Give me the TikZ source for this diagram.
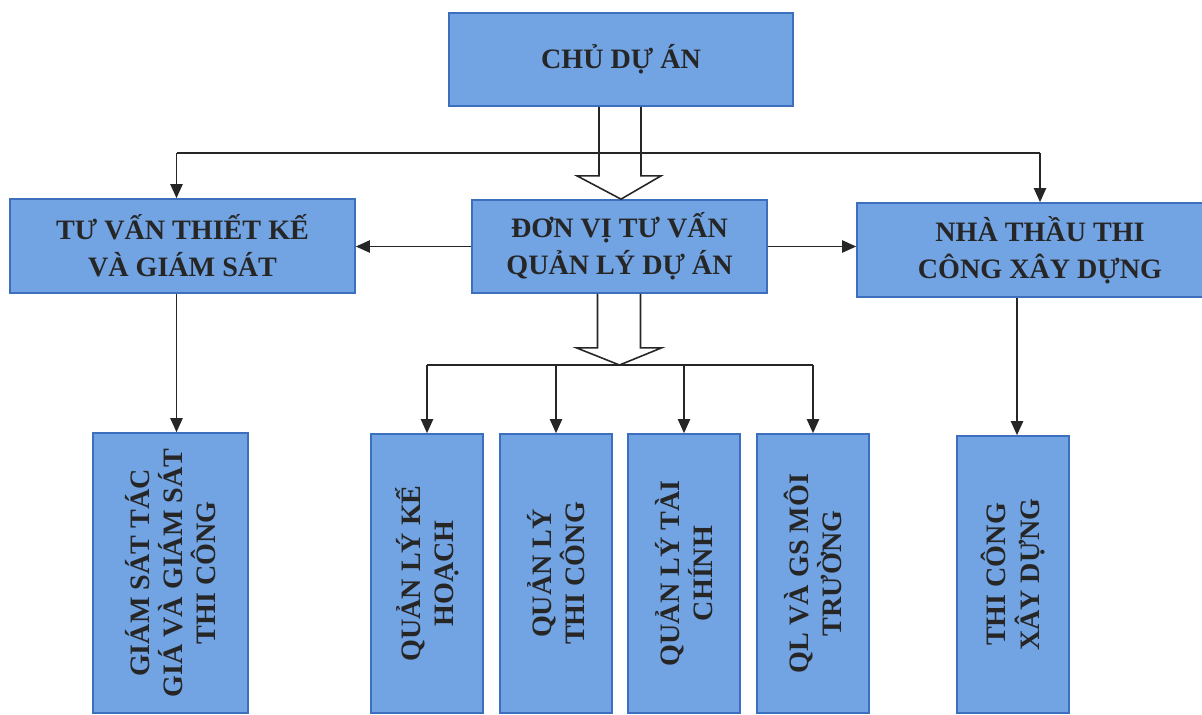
\documentclass[tikz,border=0pt]{standalone}
\usepackage{fontspec}
\setmainfont{Liberation Serif}
\usetikzlibrary{arrows.meta,calc}
\definecolor{boxfill}{RGB}{114,163,226}
\definecolor{boxline}{RGB}{60,112,190}
\begin{document}
\begin{tikzpicture}[x=0.02cm,y=-0.02cm,
  box/.style={draw=boxline, line width=1pt, fill=boxfill, align=center,
    font=\bfseries\fontsize{16}{21}\selectfont, inner sep=0pt, text=black!85},
  vtext/.style={rotate=90, align=center, font=\bfseries\fontsize{16}{19}\selectfont, text=black!85},
  conn/.style={draw=black!85, line width=0.9pt, -{Triangle[width=7pt,length=8pt]}},
  plain/.style={draw=black!85, line width=0.9pt},
  barrow/.style={draw=black!85, line width=0.9pt, line join=miter}]
\useasboundingbox (0,0) rectangle (1202,714);
\clip (0,0) rectangle (1202,714);

% top level
\node[box, minimum width=6.88cm, minimum height=1.86cm] (cda) at (621,59.5) {CHỦ DỰ ÁN};
% second level
\node[box, minimum width=6.9cm, minimum height=1.88cm] (tv) at (182.5,246) {TƯ VẤN THIẾT KẾ\\VÀ GIÁM SÁT};
\node[box, minimum width=5.9cm, minimum height=1.86cm] (dv) at (619.5,246.5) {ĐƠN VỊ TƯ VẤN\\QUẢN LÝ DỰ ÁN};
\node[box, minimum width=7.32cm, minimum height=1.88cm] (nt) at (1040,250) {NHÀ THẦU THI\\CÔNG XÂY DỰNG};

% third level
\node[box, minimum width=3.1cm, minimum height=5.6cm] (gs) at (170.5,573) {};
\node[vtext] (gst) at (gs.center) {GIÁM SÁT TÁC\\GIÁ VÀ GIÁM SÁT\\THI CÔNG};
\node[box, minimum width=2.24cm, minimum height=5.58cm] (qkh) at (427,573.5) {};
\node[vtext] (qkht) at (qkh.center) {QUẢN LÝ KẾ\\HOẠCH};
\node[box, minimum width=2.24cm, minimum height=5.58cm] (qtc) at (556,573.5) {};
\node[vtext] (qtct) at (qtc.center) {QUẢN LÝ\\THI CÔNG};
\node[box, minimum width=2.24cm, minimum height=5.58cm] (qtch) at (684,573.5) {};
\node[vtext] (qtcht) at (qtch.center) {QUẢN LÝ TÀI\\CHÍNH};
\node[box, minimum width=2.24cm, minimum height=5.58cm] (qmt) at (813,573.5) {};
\node[vtext] (qmtt) at (qmt.center) {QL VÀ GS MÔI\\TRƯỜNG};
\node[box, minimum width=2.24cm, minimum height=5.54cm] (tcxd) at (1013,574.5) {};
\node[vtext] (tcxdt) at (tcxd.center) {THI CÔNG\\XÂY DỰNG};

% helper coordinates
\coordinate (bus1) at (621,153);
\coordinate (bus2) at (619.5,365);
\coordinate (tvtop) at ($(tv.north)+(-6,0)$);
\coordinate (tvbot) at ($(tv.south)+(-6,0)$);
\coordinate (ntbot) at ($(nt.south)+(-23,0)$);

% block arrow CHU DU AN -> DON VI
\draw[barrow] ($(cda.south)+(-22,0)$) -- ($(cda.south)+(-22,69)$) -- ($(cda.south)+(-44,69)$)
  -- (cda.south |- dv.north) -- ($(cda.south)+(40,69)$) -- ($(cda.south)+(20,69)$) -- ($(cda.south)+(20,0)$);

% top bus
\draw[plain] (tvtop |- bus1) -- (nt.north |- bus1);
\draw[conn] (tvtop |- bus1) -- (tvtop);
\draw[conn] (nt.north |- bus1) -- (nt.north);

% side arrows
\draw[conn] (dv.west) -- (dv.west -| tv.east);
\draw[conn] (dv.east) -- (dv.east -| nt.west);

% vertical connectors to third level
\draw[conn] (tvbot) -- (tvbot |- gs.north);
\draw[conn] (ntbot) -- (ntbot |- tcxd.north);

% block arrow DON VI -> bus
\draw[barrow] ($(dv.south)+(-22,0)$) -- ($(dv.south)+(-22,54)$) -- ($(dv.south)+(-43,54)$)
  -- (bus2) -- ($(dv.south)+(42,54)$) -- ($(dv.south)+(21,54)$) -- ($(dv.south)+(21,0)$);

% bottom bus
\draw[plain] (qkh.north |- bus2) -- (qmt.north |- bus2);
\draw[conn] (qkh.north |- bus2) -- (qkh.north);
\draw[conn] (qtc.north |- bus2) -- (qtc.north);
\draw[conn] (qtch.north |- bus2) -- (qtch.north);
\draw[conn] (qmt.north |- bus2) -- (qmt.north);
\end{tikzpicture}
\end{document}
